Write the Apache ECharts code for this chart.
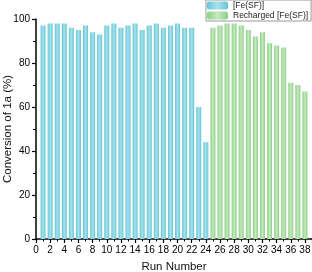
<!DOCTYPE html>
<html>
<head>
<meta charset="utf-8">
<script src="https://cdn.jsdelivr.net/npm/echarts@6/dist/echarts.min.js"></script>
<style>
  html, body { margin: 0; padding: 0; background: #fff; }
  #chart { width: 312px; height: 272px; }
</style>
</head>
<body>
<div id="chart"></div>
<script>
// valores
const runsFe = [1, 2, 3, 4, 5, 6, 7, 8, 9, 10, 11, 12, 13, 14, 15, 16, 17, 18, 19, 20, 21, 22, 23, 24]
const convFe = [97, 98, 98, 98, 96, 95, 97, 94, 93, 97, 98, 96, 97, 98, 95, 97, 98, 96, 97, 98, 96, 96, 60, 44]
const runsRecargado = [25, 26, 27, 28, 29, 30, 31, 32, 33, 34, 35, 36, 37, 38]
const convRecargado = [96, 97, 98, 98, 97, 95, 92, 94, 89, 88, 87, 71, 70, 67]
const nombres = ['[Fe(SF)]', 'Recharged [Fe(SF)]']

const fuente = 'Liberation Sans, Arial, sans-serif'

function degradado(borde, centro) {
  return new echarts.graphic.LinearGradient(0, 0, 1, 0, [
    { offset: 0, color: borde },
    { offset: 0.5, color: centro },
    { offset: 1, color: borde },
  ])
}

const azul = degradado('#62c6d5', '#a9e2eb')
const verde = degradado('#8ccf86', '#c6eabf')

const pares = (xs, ys) => xs.map((x, i) => [x, ys[i]])

const chart = echarts.init(document.getElementById('chart'))
chart.setOption({
  animation: false,
  textStyle: { fontFamily: fuente },
  grid: { left: 36, right: 0, top: 19, bottom: 33, outerBoundsMode: 'none', containLabel: false },
  legend: {
    orient: 'vertical',
    left: 206,
    top: 0,
    padding: [1, 3, 1, 1],
    itemGap: 1,
    itemWidth: 21,
    itemHeight: 8,
    backgroundColor: '#fff',
    borderColor: '#999',
    borderWidth: 1,
    borderRadius: 0,
    textStyle: { fontSize: 8.5, color: '#222' },
    data: [
      { name: nombres[0], itemStyle: { color: azul } },
      { name: nombres[1], itemStyle: { color: verde } },
    ],
  },
  xAxis: {
    type: 'value',
    min: 0,
    max: 39,
    interval: 2,
    name: 'Run Number',
    nameLocation: 'middle',
    nameGap: 22,
    nameMoveOverlap: false,
    nameTextStyle: { fontSize: 11.5, color: '#111' },
    splitLine: { show: false },
    axisLine: { lineStyle: { color: '#000', width: 1.5 } },
    axisTick: { show: true, inside: false, length: 4, lineStyle: { color: '#000', width: 1.2 } },
    minorTick: { show: true, splitNumber: 2, length: 2.5, lineStyle: { color: '#000', width: 1 } },
    axisLabel: { fontSize: 10, color: '#000', margin: 6, showMaxLabel: false, hideOverlap: false },
  },
  yAxis: {
    type: 'value',
    min: 0,
    max: 100,
    interval: 20,
    name: 'Conversion of 1a (%)',
    nameLocation: 'middle',
    nameGap: 22,
    nameMoveOverlap: false,
    nameTextStyle: { fontSize: 11.5, color: '#111' },
    splitLine: { show: false },
    axisLine: { show: true, lineStyle: { color: '#000', width: 1.5 } },
    axisTick: { show: true, inside: false, length: 4, lineStyle: { color: '#000', width: 1.2 } },
    minorTick: { show: true, splitNumber: 2, length: 3, lineStyle: { color: '#000', width: 1 } },
    axisLabel: { fontSize: 10, color: '#000', margin: 6 },
  },
  series: [
    {
      name: nombres[0],
      type: 'bar',
      barWidth: 5,
      barGap: '-100%',
      itemStyle: { color: azul },
      data: pares(runsFe, convFe),
    },
    {
      name: nombres[1],
      type: 'bar',
      barWidth: 5,
      barGap: '-100%',
      itemStyle: { color: verde },
      data: pares(runsRecargado, convRecargado),
    },
  ],
})
</script>
</body>
</html>
